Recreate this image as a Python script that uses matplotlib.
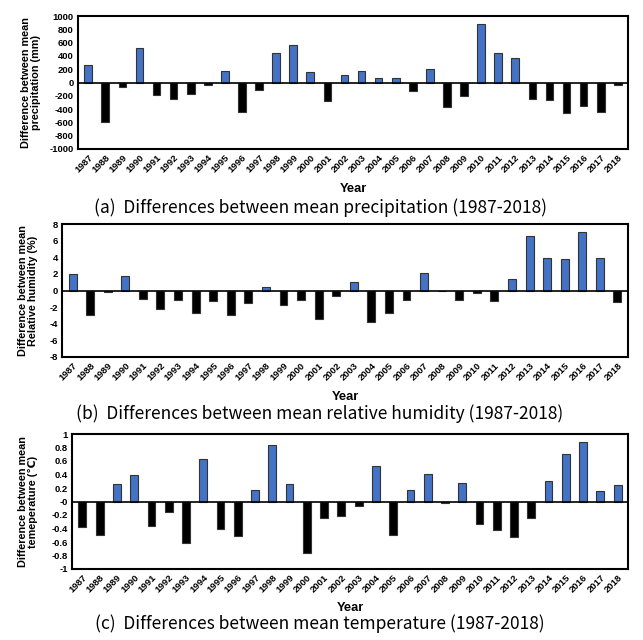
import numpy as np
import matplotlib
matplotlib.use('Agg')
import matplotlib.pyplot as plt

years = [str(y) for y in range(1987, 2019)]

precip = [260, -590, -75, 520, -190, -255, -175, -40, 180, -440, -115, 450, 565, 160, -280,
          120, 170, 75, 65, -130, 200, -365, -200, 875, 440, 375, -250, -270, -460, -355, -445, -45]
humidity = [2.0, -2.95, -0.15, 1.75, -1.05, -2.2, -1.2, -2.7, -1.3, -3.0, -1.55, 0.45, -1.8, -1.2, -3.45,
            -0.7, 1.05, -3.75, -2.65, -1.1, 2.1, 0.0, -1.1, -0.3, -1.3, 1.4, 6.55, 3.85, 3.8, 7.0, 3.85, -1.4]
temp = [-0.385, -0.5, 0.26, 0.40, -0.37, -0.15, -0.62, 0.63, -0.40, -0.51, 0.17, 0.84, 0.26, -0.76, -0.25,
        -0.21, -0.06, 0.52, -0.50, 0.17, 0.41, -0.02, 0.28, -0.34, -0.42, -0.53, -0.24, 0.31, 0.70, 0.88, 0.15, 0.25]

ylabels = ['Difference between mean\nprecipitation (mm)',
           'Difference between mean\nRelative humidity (%)',
           'Difference between mean\ntemeperature (\u2103)']
captions = ['(a)  Differences between mean precipitation (1987-2018)',
            '(b)  Differences between mean relative humidity (1987-2018)',
            '(c)  Differences between mean temperature (1987-2018)']
ylims = [(-1000, 1000), (-8, 8), (-1, 1)]
yticks = [np.arange(-1000, 1001, 200), np.arange(-8, 9, 2), np.round(np.arange(-1, 1.01, 0.2), 1)]

W, H = 643, 640
fig = plt.figure(figsize=(W / 100, H / 100), dpi=100)
lab_font = ['Liberation Sans', 'DejaVu Sans']

# axes boxes in pixels: left, top, right, bottom
boxes = [(78, 16, 628, 149), (62, 224, 628, 357), (72, 434, 628, 569)]
ylab_x = [31, 28, 28]
year_y = [189, 397, 608]
cap_y = [208, 414, 624]
data = [precip, humidity, temp]

x = np.arange(len(years))
for i in range(3):
    l, t, r, b = boxes[i]
    ax = fig.add_axes([l / W, 1 - b / H, (r - l) / W, (b - t) / H])
    vals = np.array(data[i])
    colors = ['#4472C4' if v > 0 else 'black' for v in vals]
    ax.bar(x, vals, width=0.45, color=colors, edgecolor='#333333', linewidth=0.8, zorder=2)
    ax.axhline(0, color='black', linewidth=1.2, zorder=3)
    ax.set_xlim(-0.6, len(years) - 0.4)
    ax.set_ylim(*ylims[i])
    ax.set_yticks(yticks[i])
    ax.set_yticklabels([('%g' % v) for v in yticks[i]])
    ax.set_xticks(x)
    ax.set_xticklabels(years, rotation=45, ha='right', rotation_mode='anchor')
    ax.tick_params(length=0, pad=3)
    for lab in ax.get_xticklabels() + ax.get_yticklabels():
        lab.set_fontweight('bold')
        lab.set_fontsize(6.8)
        lab.set_family(lab_font)
    for s in ax.spines.values():
        s.set_linewidth(1.5)
    fig.text(ylab_x[i] / W, 1 - (t + b) / 2 / H, ylabels[i], rotation=90, ha='center', va='center',
             fontsize=7.8, fontweight='bold', linespacing=1.0, multialignment='center',
             family=['Liberation Sans', 'DejaVu Sans'])
    fig.text((l + r) / 2 / W, 1 - year_y[i] / H, 'Year', ha='center', va='center',
             fontsize=9.3, fontweight='bold', family=lab_font)
    fig.text(320 / W, 1 - cap_y[i] / H, captions[i], ha='center', va='center',
             fontsize=12.5, family=['Noto Sans CJK KR', 'DejaVu Sans'])

fig.savefig('out.png', dpi=100, facecolor='white')
